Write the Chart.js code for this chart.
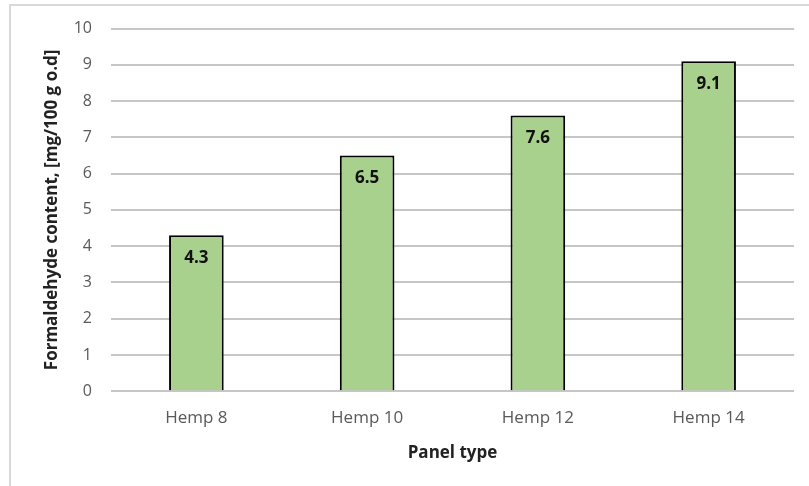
<!DOCTYPE html>
<html>
<head>
<meta charset="utf-8">
<title>Formaldehyde content by panel type</title>
<script src="https://cdn.jsdelivr.net/npm/chart.js@4.4.1/dist/chart.umd.min.js"></script>
<style>
  html, body { margin: 0; padding: 0; background: #fff; overflow: hidden; }
  #wrap { position: relative; width: 809px; height: 486px; }
  #frame {
    position: absolute; left: 9px; top: 4px; width: 900px; height: 600px;
    border: 2px solid #d9d9d9; pointer-events: none;
  }
</style>
</head>
<body>
<div id="wrap">
  <canvas id="chart"></canvas>
  <div id="frame"></div>
</div>
<script>
// panel types and measured formaldehyde content
const panels = ["Hemp 8", "Hemp 10", "Hemp 12", "Hemp 14"];
const formaldehyde = [4.3, 6.5, 7.6, 9.1];
const yTicks = [0, 1, 2, 3, 4, 5, 6, 7, 8, 9, 10];

// writes the value inside the top of each bar
const barValues = {
  id: "barValues",
  afterDatasetsDraw(chart) {
    const ctx = chart.ctx;
    const meta = chart.getDatasetMeta(0);
    ctx.save();
    ctx.font = "bold 17px 'Open Sans'";
    ctx.fillStyle = "#111";
    ctx.textAlign = "center";
    ctx.textBaseline = "middle";
    meta.data.forEach((bar, i) => {
      ctx.fillText(formaldehyde[i].toFixed(1), bar.x, bar.y + 23);
    });
    ctx.restore();
  }
};

const chart = new Chart(document.getElementById("chart"), {
  type: "bar",
  data: {
    labels: panels,
    datasets: [{
      data: formaldehyde,
      backgroundColor: "#a9d18e",
      borderColor: "#000",
      borderWidth: 2,
      categoryPercentage: 1,
      barPercentage: 0.32
    }]
  },
  options: {
    responsive: true,
    maintainAspectRatio: false,
    animation: false,
    layout: { padding: { left: 42, top: 21, right: 15, bottom: 23 } },
    plugins: {
      legend: { display: false },
      tooltip: { enabled: false }
    },
    scales: {
      x: {
        afterFit(scale) {
          // keep the plot edges fixed, labels have room anyway
          scale.paddingLeft = 0;
          scale.paddingRight = 0;
        },
        grid: { display: false },
        border: { display: false },
        ticks: { color: "#595959", font: { family: "Open Sans", size: 17 }, padding: 9 },
        title: {
          display: true,
          text: "Panel type",
          color: "#222",
          font: { family: "Open Sans", size: 17, weight: "bold" },
          padding: { top: 5, bottom: 0 }
        }
      },
      y: {
        min: 0,
        max: 10,
        afterBuildTicks(scale) {
          scale.ticks = yTicks.map(v => ({ value: v }));
        },
        afterFit(scale) {
          scale.width = 69;
        },
        grid: { color: "#c6c6c6", lineWidth: 2, drawTicks: false },
        border: { display: false },
        ticks: { color: "#595959", font: { family: "Open Sans", size: 16 }, padding: 19 },
        title: {
          display: true,
          text: "Formaldehyde content, [mg/100 g o.d]",
          color: "#222",
          font: { family: "Open Sans", size: 17, weight: "bold" },
          padding: { top: 0, bottom: 14 }
        }
      }
    }
  },
  plugins: [barValues]
});
</script>
</body>
</html>
